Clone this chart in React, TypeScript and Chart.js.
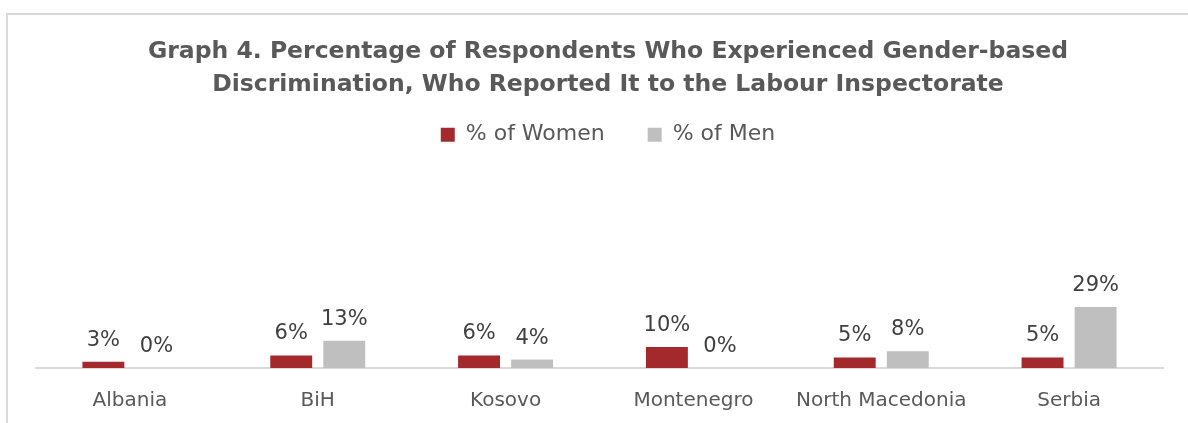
import React, { useEffect, useRef } from "react";
import { Chart, registerables } from "chart.js";

Chart.register(...registerables);

const categories = ["Albania", "BiH", "Kosovo", "Montenegro", "North Macedonia", "Serbia"];
const womenValues = [3, 6, 6, 10, 5, 5];
const menValues = [0, 13, 4, 0, 8, 29];
const seriesNames = ["% of Women", "% of Men"];
const titleLines = [
  "Graph 4. Percentage of Respondents Who Experienced Gender-based",
  "Discrimination, Who Reported It to the Labour Inspectorate",
];
const yMax = 101;

const WOMEN_COLOR = "#A4292D";
const MEN_COLOR = "#BFBFBF";
const TEXT_COLOR = "#595959";
const LABEL_COLOR = "#404040";
const FONT = "'DejaVu Sans', sans-serif";

const valueLabels = {
  id: "valueLabels",
  afterDatasetsDraw(chart: any) {
    const ctx = chart.ctx;
    ctx.save();
    ctx.font = `21px ${FONT}`;
    ctx.fillStyle = LABEL_COLOR;
    ctx.textAlign = "center";
    ctx.textBaseline = "alphabetic";
    chart.data.datasets.forEach((ds: any, di: number) => {
      const meta = chart.getDatasetMeta(di);
      meta.data.forEach((el: any, i: number) => {
        ctx.fillText(`${ds.data[i]}%`, el.x, el.y - 16);
      });
    });
    ctx.restore();
  },
};

export default function App() {
  const canvasRef = useRef<HTMLCanvasElement | null>(null);

  useEffect(() => {
    if (!canvasRef.current) return;
    const chart = new Chart(canvasRef.current, {
      type: "bar",
      data: {
        labels: categories,
        datasets: [
          {
            label: seriesNames[0],
            data: womenValues,
            backgroundColor: WOMEN_COLOR,
            categoryPercentage: 0.565,
            barPercentage: 0.79,
          },
          {
            label: seriesNames[1],
            data: menValues,
            backgroundColor: MEN_COLOR,
            categoryPercentage: 0.565,
            barPercentage: 0.79,
          },
        ],
      },
      options: {
        responsive: false,
        animation: false,
        devicePixelRatio: 1,
        layout: { padding: { left: 36, right: 8, top: 0, bottom: -11 } },
        plugins: {
          title: {
            display: true,
            text: titleLines,
            color: TEXT_COLOR,
            font: { family: FONT, size: 23.5, weight: "bold", lineHeight: 1.42 },
            padding: { top: 35, bottom: 0 },
          },
          legend: {
            display: true,
            labels: {
              boxWidth: 14,
              boxHeight: 14,
              padding: 22,
              color: TEXT_COLOR,
              font: { family: FONT, size: 22 },
              generateLabels: (chart: any) => {
                const items = Chart.defaults.plugins.legend.labels.generateLabels(chart);
                return items.map((it: any, i: number) =>
                  i === 0 ? { ...it, text: it.text + "   " } : it
                );
              },
            },
          },
          tooltip: { enabled: false },
        },
        scales: {
          x: {
            grid: { display: false, drawTicks: false },
            border: { display: true, color: "#D9D9D9", width: 2 },
            ticks: { color: TEXT_COLOR, font: { family: FONT, size: 20 }, padding: 21 },
          },
          y: {
            position: "right",
            min: 0,
            max: yMax,
            display: true,
            grid: { display: false, drawTicks: false },
            border: { display: false },
            ticks: { display: false },
            afterFit: (s: any) => {
              s.width = 17;
            },
          },
        },
      },
      plugins: [valueLabels],
    });
    return () => chart.destroy();
  }, []);

  return (
    <div
      style={{
        position: "fixed",
        left: 0,
        top: 0,
        width: 1188,
        height: 423,
        overflow: "hidden",
        background: "#ffffff",
      }}
    >
      <div
        style={{
          position: "absolute",
          left: 6,
          top: 13,
          width: 1300,
          height: 500,
          border: "2px solid #D9D9D9",
          boxSizing: "border-box",
        }}
      />
      <canvas
        ref={canvasRef}
        width={1188}
        height={423}
        style={{ position: "absolute", left: 0, top: 0, display: "block" }}
      />
    </div>
  );
}
